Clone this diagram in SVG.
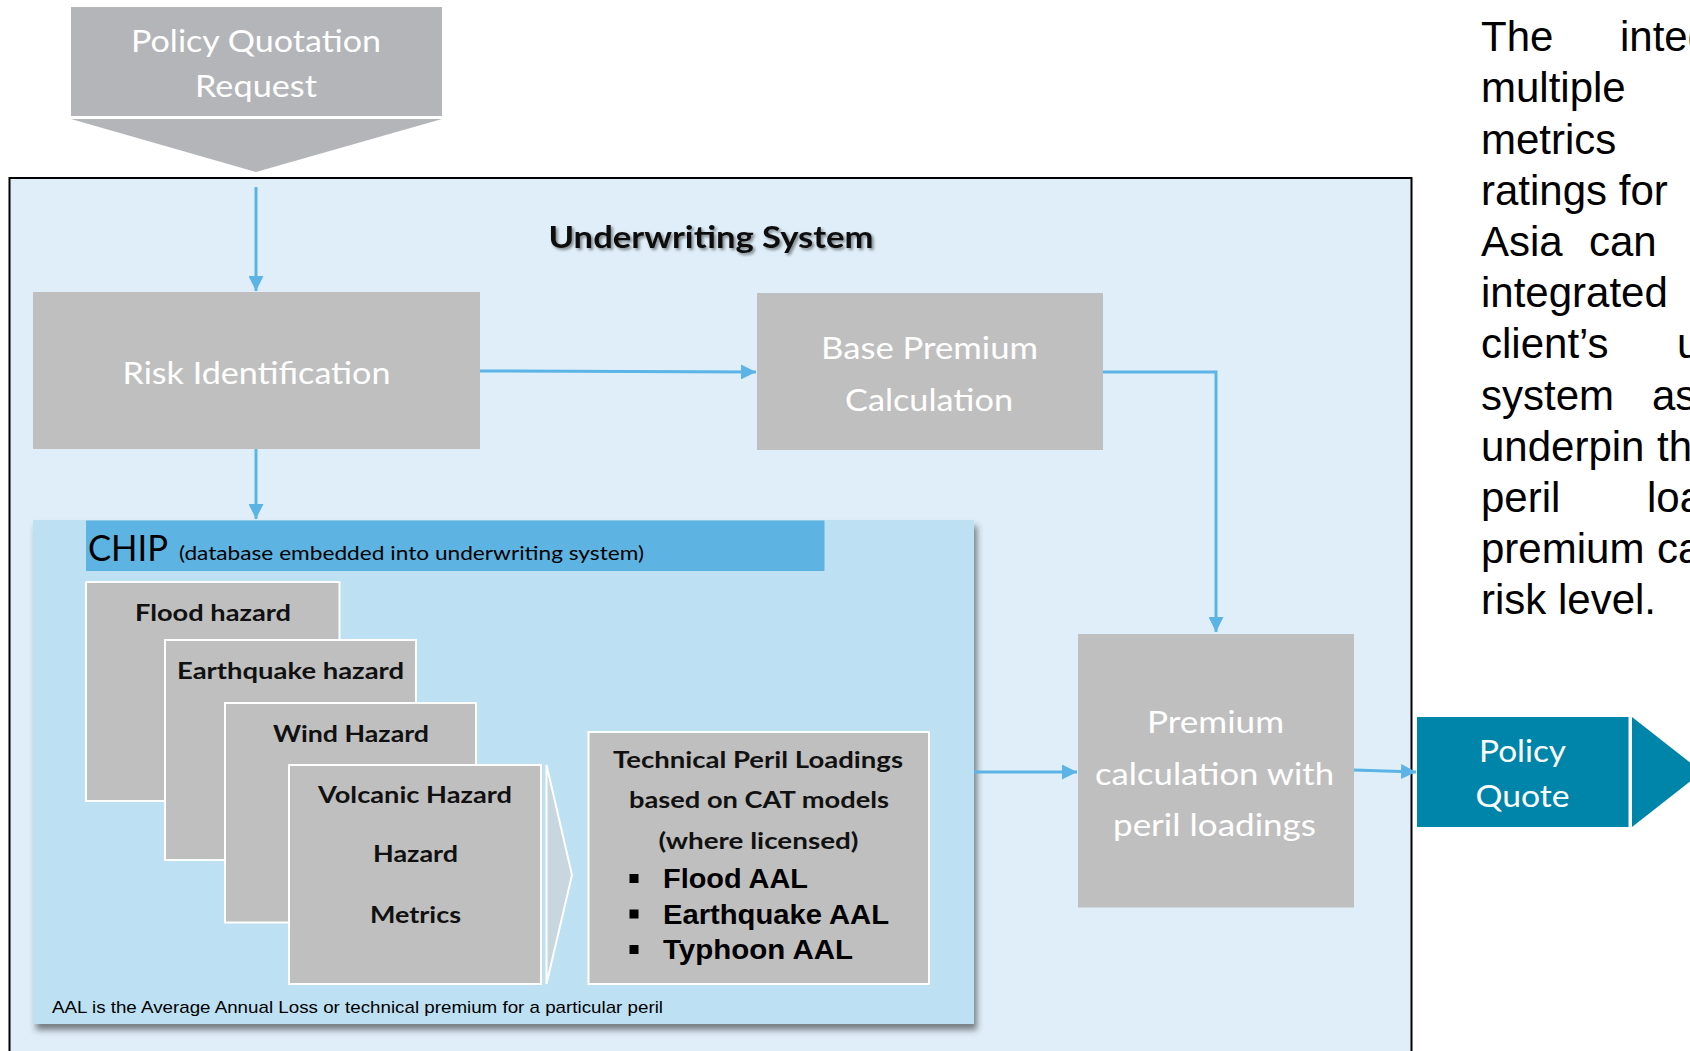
<svg xmlns="http://www.w3.org/2000/svg" width="1690" height="1051" viewBox="0 0 1690 1051">
<style>
.gbox{fill:#BFBFBF}
.hz{fill:#BFBFBF;stroke:#FFFFFF;stroke-width:2}
.wt{font-family:Lato,"Open Sans",sans-serif;fill:#FFFFFF;text-anchor:middle}
.bt{font-family:Lato,"Open Sans",sans-serif;font-weight:700;fill:#111111;text-anchor:middle}
.conn{fill:none;stroke:#5BB4E5;stroke-width:3}
.para{font-family:"Liberation Sans",Arial,sans-serif;font-size:42px;fill:#000000}
.bul{font-family:"Liberation Sans",Arial,sans-serif;font-weight:700;font-size:28px;fill:#000000}
</style>
<defs>
<marker id="ah" viewBox="0 0 10 10" refX="10" refY="5" markerWidth="5" markerHeight="5" markerUnits="strokeWidth" orient="auto">
<path d="M0,0 L10,5 L0,10 Z" fill="#5BB4E5"/>
</marker>
<filter id="tshadow" x="-10%" y="-30%" width="120%" height="160%">
<feDropShadow dx="2" dy="2" stdDeviation="1.5" flood-color="#000000" flood-opacity="0.45"/>
</filter>
<filter id="bshadow" x="-5%" y="-5%" width="110%" height="115%">
<feDropShadow dx="3" dy="6" stdDeviation="3" flood-color="#333333" flood-opacity="0.6"/>
</filter>
</defs>
<rect width="1690" height="1051" fill="#FFFFFF"/>

<g id="policy-quotation-request">
<rect x="71" y="7" width="371" height="109" fill="#B4B5B8"/>
<polygon points="71,119 442,119 256,172" fill="#B4B5B8"/>
<text class="wt" x="256" y="52" font-size="31" textLength="250" lengthAdjust="spacingAndGlyphs">Policy Quotation</text>
<text class="wt" x="256" y="97" font-size="31" textLength="122" lengthAdjust="spacingAndGlyphs">Request</text>
</g>

<g id="underwriting-system">
<rect x="9.5" y="178" width="1402" height="890" fill="#DFEEF9" stroke="#000000" stroke-width="2"/>
<text class="bt" x="711" y="248" font-size="30" filter="url(#tshadow)" textLength="325" lengthAdjust="spacingAndGlyphs">Underwriting System</text>
</g>

<g id="risk-identification">
<rect class="gbox" x="33" y="292" width="447" height="157"/>
<text class="wt" x="256.5" y="384" font-size="31" textLength="268" lengthAdjust="spacingAndGlyphs">Risk Identification</text>
</g>

<g id="base-premium">
<rect class="gbox" x="757" y="293" width="346" height="157"/>
<text class="wt" x="929.5" y="359" font-size="31" textLength="217" lengthAdjust="spacingAndGlyphs">Base Premium</text>
<text class="wt" x="929" y="411" font-size="31" textLength="168" lengthAdjust="spacingAndGlyphs">Calculation</text>
</g>

<g id="chip">
<rect x="33" y="520" width="941" height="504" fill="#BDE0F3" filter="url(#bshadow)"/>
<rect x="86" y="520.5" width="738.5" height="50.5" fill="#5DB4E2"/>
<text x="88" y="561" font-family="Lato,'Open Sans',sans-serif" font-size="37" fill="#000000" textLength="80" lengthAdjust="spacingAndGlyphs">CHIP</text>
<text x="179" y="560" font-family="Lato,'Open Sans',sans-serif" font-size="20" fill="#000000" textLength="465" lengthAdjust="spacingAndGlyphs">(database embedded into underwriting system)</text>
<text x="52" y="1013" font-family="'Liberation Sans',Arial,sans-serif" font-size="17" fill="#000000" textLength="611" lengthAdjust="spacingAndGlyphs">AAL is the Average Annual Loss or technical premium for a particular peril</text>
</g>

<g id="flood-hazard">
<rect class="hz" x="86" y="582" width="253.5" height="219"/>
<text class="bt" x="213" y="621" font-size="23" textLength="156" lengthAdjust="spacingAndGlyphs">Flood hazard</text>
</g>
<g id="earthquake-hazard">
<rect class="hz" x="165" y="640" width="251" height="220"/>
<text class="bt" x="290.5" y="679" font-size="23" textLength="227" lengthAdjust="spacingAndGlyphs">Earthquake hazard</text>
</g>
<g id="wind-hazard">
<rect class="hz" x="225" y="703" width="251" height="219.5"/>
<text class="bt" x="351" y="741.5" font-size="23" textLength="156" lengthAdjust="spacingAndGlyphs">Wind Hazard</text>
</g>
<g id="volcanic-hazard">
<rect class="hz" x="289" y="765" width="252" height="219"/>
<text class="bt" x="415" y="803" font-size="23" textLength="194" lengthAdjust="spacingAndGlyphs">Volcanic Hazard</text>
<text class="bt" x="415.5" y="862" font-size="23" textLength="85" lengthAdjust="spacingAndGlyphs">Hazard</text>
<text class="bt" x="415.5" y="922.5" font-size="23" textLength="91" lengthAdjust="spacingAndGlyphs">Metrics</text>
</g>
<g id="chevron">
<polygon points="546.5,765 572,875 546.5,984" fill="#C7D6DF" stroke="#FFFFFF" stroke-width="2"/>
</g>

<g id="technical-peril-loadings">
<rect class="hz" x="588.5" y="732" width="340.5" height="252"/>
<text class="bt" x="758" y="768" font-size="23" textLength="290" lengthAdjust="spacingAndGlyphs">Technical Peril Loadings</text>
<text class="bt" x="759" y="808" font-size="23" textLength="260" lengthAdjust="spacingAndGlyphs">based on CAT models</text>
<text class="bt" x="758.5" y="849" font-size="23" textLength="200" lengthAdjust="spacingAndGlyphs">(where licensed)</text>
<rect x="629.5" y="874" width="9" height="9" fill="#000000"/>
<rect x="629.5" y="909.5" width="9" height="9" fill="#000000"/>
<rect x="629.5" y="945" width="9" height="9" fill="#000000"/>
<text class="bul" x="663" y="888" textLength="145" lengthAdjust="spacingAndGlyphs">Flood AAL</text>
<text class="bul" x="663" y="923.5" textLength="226" lengthAdjust="spacingAndGlyphs">Earthquake AAL</text>
<text class="bul" x="663" y="959" textLength="190" lengthAdjust="spacingAndGlyphs">Typhoon AAL</text>
</g>

<g id="premium-calculation">
<rect class="gbox" x="1078" y="634" width="276" height="273.5"/>
<text class="wt" x="1215.5" y="733" font-size="31" textLength="137" lengthAdjust="spacingAndGlyphs">Premium</text>
<text class="wt" x="1214.5" y="785" font-size="31" textLength="239" lengthAdjust="spacingAndGlyphs">calculation with</text>
<text class="wt" x="1214.5" y="836" font-size="31" textLength="203" lengthAdjust="spacingAndGlyphs">peril loadings</text>
</g>

<g id="policy-quote">
<rect x="1417" y="717" width="211.5" height="110" fill="#0085AA"/>
<polygon points="1632,717 1702,772 1632,827" fill="#0085AA"/>
<text class="wt" x="1522.5" y="762" font-size="31" textLength="87" lengthAdjust="spacingAndGlyphs">Policy</text>
<text class="wt" x="1522.5" y="807" font-size="31" textLength="94" lengthAdjust="spacingAndGlyphs">Quote</text>
</g>

<g id="connectors">
<line class="conn" x1="256" y1="187" x2="256" y2="291" marker-end="url(#ah)"/>
<line class="conn" x1="480" y1="371" x2="756" y2="372" marker-end="url(#ah)"/>
<line class="conn" x1="256" y1="449" x2="256" y2="519" marker-end="url(#ah)"/>
<path class="conn" d="M1103,372 H1216 V632" marker-end="url(#ah)"/>
<line class="conn" x1="974" y1="772" x2="1077" y2="772" marker-end="url(#ah)"/>
<line class="conn" x1="1354" y1="770" x2="1416" y2="772" marker-end="url(#ah)"/>
</g>

<g id="description">
<text class="para" x="1481" y="51">The</text>
<text class="para" x="1620" y="51">integ</text>
<text class="para" x="1481" y="102">multiple</text>
<text class="para" x="1481" y="153.5">metrics</text>
<text class="para" x="1481" y="204.5">ratings for</text>
<text class="para" x="1481" y="256">Asia</text>
<text class="para" x="1589" y="256">can</text>
<text class="para" x="1481" y="307">integrated</text>
<text class="para" x="1481" y="358">client’s</text>
<text class="para" x="1677" y="358">u</text>
<text class="para" x="1481" y="409.5">system</text>
<text class="para" x="1652" y="409.5">as</text>
<text class="para" x="1481" y="460.5">underpin</text>
<text class="para" x="1657" y="460.5">th</text>
<text class="para" x="1481" y="512">peril</text>
<text class="para" x="1647" y="512">loa</text>
<text class="para" x="1481" y="563">premium</text>
<text class="para" x="1657" y="563">ca</text>
<text class="para" x="1481" y="614">risk level.</text>
</g>
</svg>
